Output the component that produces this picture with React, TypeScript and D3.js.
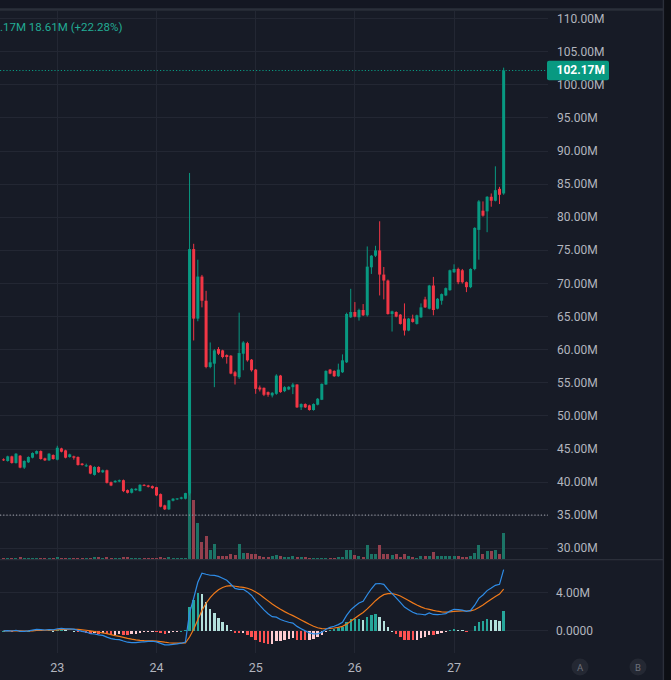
import React, { useEffect, useRef } from 'react';
import * as d3 from 'd3';

// hourly candles, first one opens 22nd 11:00 UTC
const startTime = Date.UTC(2025, 0, 22, 11);

const open = [
  43.45, 43.2, 43.9, 42.9, 44.0, 42.2, 43.0, 43.7, 44.3, 44.7, 43.6, 43.3, 44.1, 43.4, 45.1, 44.8,
  43.8, 43.9, 43.8, 42.8, 42.5, 42.5, 41.1, 42.3, 41.5, 41.8, 40.0, 40.0, 40.1, 40.3, 38.8, 38.4,
  38.8, 38.65, 39.6, 39.5, 39.4, 39.25, 38.2, 36.5, 35.9, 37.2, 37.4, 37.5, 37.5, 38.3, 75.2, 64.7,
  71.05, 67.4, 57.4, 57.9, 60.1, 59.9, 59.2, 59.1, 56.6, 55.85, 59.4, 61.0, 58.5, 57.0, 54.3, 54.25,
  53.6, 53.1, 53.35, 56.1, 53.75, 54.0, 54.35, 54.75, 51.3, 51.8, 51.6, 50.9, 51.7, 52.45, 54.75, 57.0,
  56.8, 56.0, 56.6, 58.1, 64.9, 65.7, 64.9, 66.0, 65.2, 72.45, 74.2, 75.0, 71.35, 70.45, 65.4, 65.7,
  65.3, 64.7, 62.9, 64.7, 63.9, 64.9, 67.6, 66.2, 69.7, 66.2, 67.4, 68.2, 69.0, 71.7, 72.2, 72.0,
  70.2, 69.45, 72.2, 78.1, 81.0, 80.9, 83.1, 82.5, 84.3, 83.6,
];
const high = [
  43.6, 44.0, 44.0, 44.4, 44.1, 43.3, 43.9, 44.5, 44.8, 44.8, 43.7, 44.4, 44.2, 45.5, 45.2, 44.9,
  44.3, 44.0, 43.9, 42.9, 42.8, 42.6, 42.4, 42.4, 41.9, 41.9, 40.1, 40.3, 40.4, 40.4, 38.9, 39.1,
  39.1, 39.7, 39.7, 39.6, 39.5, 39.3, 38.3, 36.6, 37.3, 37.6, 37.6, 37.8, 38.4, 86.7, 76.0, 73.6,
  71.3, 68.9, 61.1, 60.1, 60.4, 60.0, 59.3, 59.2, 56.8, 65.6, 61.3, 61.2, 58.6, 57.1, 54.6, 54.3,
  53.7, 53.6, 56.3, 56.2, 54.5, 54.5, 55.0, 54.8, 51.9, 51.9, 51.7, 51.9, 52.7, 54.9, 56.9, 57.1,
  56.9, 57.9, 59.3, 65.6, 69.2, 67.2, 66.2, 66.9, 75.6, 74.3, 75.7, 79.4, 72.5, 70.6, 65.9, 65.8,
  65.4, 67.0, 64.8, 65.3, 65.3, 67.0, 68.0, 69.8, 71.0, 67.8, 68.5, 69.4, 72.1, 72.9, 72.4, 72.2,
  70.3, 72.3, 78.5, 82.6, 82.4, 83.2, 83.6, 87.7, 84.6, 102.6,
];
const low = [
  43.2, 43.1, 42.8, 42.8, 42.1, 42.0, 42.9, 43.6, 44.2, 43.4, 43.2, 43.2, 43.4, 43.3, 44.5, 43.6,
  43.7, 43.4, 42.5, 42.5, 42.3, 41.2, 41.0, 41.4, 41.4, 39.8, 39.4, 39.9, 40.0, 38.5, 38.3, 38.3,
  38.7, 38.6, 39.4, 39.2, 39.0, 37.9, 36.2, 35.8, 35.8, 37.1, 37.3, 37.4, 37.4, 38.0, 61.4, 64.3,
  66.4, 57.2, 57.2, 54.35, 59.2, 58.7, 57.9, 56.3, 54.75, 55.6, 56.9, 58.2, 56.7, 53.35, 53.7, 53.0,
  52.9, 52.8, 53.2, 53.5, 53.6, 53.9, 53.3, 51.2, 50.9, 51.2, 50.8, 50.8, 51.6, 52.4, 54.7, 56.3,
  55.9, 55.9, 56.5, 58.0, 64.8, 64.9, 64.4, 65.1, 65.0, 71.45, 74.0, 68.2, 67.6, 65.3, 62.75, 64.9,
  63.8, 62.15, 62.8, 64.1, 63.8, 64.8, 66.3, 66.1, 65.2, 66.1, 66.8, 68.1, 68.9, 71.6, 69.9, 70.0,
  68.7, 69.3, 72.0, 73.6, 80.1, 77.75, 81.6, 82.4, 82.0, 83.4,
];
const close = [
  43.35, 43.9, 42.9, 44.3, 42.2, 43.2, 43.8, 44.4, 44.7, 43.5, 43.3, 44.3, 43.5, 45.2, 44.6, 43.7,
  44.2, 43.7, 42.6, 42.6, 42.55, 41.3, 42.3, 41.5, 41.8, 39.9, 39.5, 40.2, 40.3, 38.65, 38.4, 39.0,
  39.0, 39.6, 39.5, 39.3, 39.1, 38.0, 36.3, 35.9, 37.25, 37.5, 37.55, 37.7, 38.35, 75.2, 64.7, 71.05,
  67.4, 57.4, 58.1, 59.9, 59.4, 58.9, 58.9, 56.4, 56.0, 59.5, 61.1, 58.4, 56.9, 54.1, 54.0, 53.2,
  53.2, 53.5, 56.1, 53.6, 54.35, 54.4, 54.75, 51.3, 51.8, 51.3, 50.9, 51.8, 52.6, 54.85, 56.8, 56.4,
  56.0, 57.0, 58.4, 65.4, 65.7, 65.0, 66.0, 65.2, 72.55, 74.2, 75.0, 71.35, 70.45, 65.4, 65.8, 65.0,
  63.9, 62.9, 64.7, 64.2, 65.2, 66.4, 66.4, 69.7, 66.0, 67.7, 68.4, 69.3, 72.0, 72.2, 70.2, 70.2,
  69.45, 72.2, 78.4, 82.4, 80.25, 83.1, 82.5, 84.1, 83.4, 102.17,
];
const volume = [
  1.5, 1, 1.5, 1, 2, 1.5, 1, 1, 1, 1.5, 1, 1, 1, 2.5, 1.5, 1.5,
  1, 1, 1.5, 1, 1, 1.5, 2, 2, 1, 2, 1.5, 1, 1.5, 2.5, 2, 1.5,
  1, 1.5, 1, 1, 1, 1.5, 2, 1.5, 2, 1, 1, 1, 1.5, 85, 59, 36,
  17, 22.7, 8.7, 15.3, 2.7, 2.7, 2.7, 4.7, 4, 15.3, 6, 6, 5.3, 4.7, 2.7, 2,
  2, 3.3, 4, 2.7, 2, 2, 2.7, 2, 2, 2, 1, 1.3, 1.3, 1.3, 1.3, 1.3,
  1.3, 2, 2, 8.7, 8.7, 3.7, 2.7, 2, 13.7, 5.3, 5.3, 13.7, 5.3, 4.7, 3.7, 4.7,
  2, 5.3, 2.7, 2, 1.3, 3.3, 3.3, 2.7, 6.7, 3.3, 2.7, 2.7, 3.3, 3.3, 2.7, 2,
  2, 2.7, 6, 13.7, 4.7, 8, 8, 9.3, 4.7, 26,
];

const dayTicks = [23, 24, 25, 26, 27];
const priceTicks = [30, 35, 40, 45, 50, 55, 60, 65, 70, 75, 80, 85, 90, 95, 100, 105, 110];
const macdTicks = [0, 4];
const refLevel = 35.03;
const legendText = '.17M 18.61M (+22.28%)';

const W = 671;
const H = 680;
const plotRight = 548;
const priceTop = 10.7;
const priceBottom = 559;
const macdTop = 560;
const macdBottom = 653;

const UP = '#089981';
const DOWN = '#f23645';
const GRID = '#232733';
const TEXT = '#b2b5be';
const FONT = 'Roboto, "Noto Sans", sans-serif';

// standard EMA seeded with the first value
function ema(values: number[], n: number): number[] {
  const k = 2 / (n + 1);
  let prev = values[0];
  return values.map((v, i) => {
    if (i > 0) prev = v * k + prev * (1 - k);
    return prev;
  });
}

const CandleChart: React.FC = () => {
  const svgRef = useRef<SVGSVGElement>(null);

  useEffect(() => {
    document.body.style.margin = '0';
    if (!svgRef.current) return;
    const svg = d3.select(svgRef.current);
    svg.selectAll('*').remove();

    const data = close.map((c, i) => ({
      t: new Date(startTime + i * 3600e3),
      o: open[i], h: high[i], l: low[i], c, v: volume[i],
    }));

    // MACD(12, 26, 9) from closes
    const e12 = ema(close, 12);
    const e26 = ema(close, 26);
    const macd = e12.map((v, i) => v - e26[i]);
    const signal = ema(macd, 9);
    const hist = macd.map((v, i) => v - signal[i]);

    const x = d3.scaleUtc()
      .domain([new Date(Date.UTC(2025, 0, 22, 10, 8)), new Date(Date.UTC(2025, 0, 27, 22, 44))])
      .range([0, plotRight]);
    const yPrice = d3.scaleLinear().domain([28.4, 111.2]).range([priceBottom, priceTop]);
    const yVol = d3.scaleLinear().domain([0, 100]).range([priceBottom, priceBottom - 100]);
    const yMacd = d3.scaleLinear().domain([-2.3, 7.41]).range([macdBottom, macdTop]);

    // background
    svg.append('rect').attr('width', W).attr('height', H).attr('fill', '#171b26');
    svg.append('rect').attr('width', W).attr('height', 8).attr('fill', '#141722');
    svg.append('rect').attr('y', 8.3).attr('width', W).attr('height', 2.4).attr('fill', '#2b2f3a');
    svg.append('rect').attr('x', 664).attr('width', W - 664).attr('height', H).attr('fill', '#0d0f14');
    svg.append('rect').attr('x', 662.7).attr('width', 1.4).attr('height', H).attr('fill', '#2b2f3a');

    svg.append('clipPath').attr('id', 'plot-clip')
      .append('rect').attr('x', 0).attr('y', priceTop).attr('width', plotRight).attr('height', macdBottom - priceTop);

    // grid
    const grid = svg.append('g').attr('shape-rendering', 'crispEdges');
    const dayDates = dayTicks.map(d => new Date(Date.UTC(2025, 0, d)));
    dayDates.forEach(d => {
      grid.append('line')
        .attr('x1', x(d)).attr('x2', x(d))
        .attr('y1', priceTop).attr('y2', macdBottom)
        .attr('stroke', GRID).attr('stroke-width', 1);
    });
    priceTicks.forEach(p => {
      grid.append('line')
        .attr('x1', 0).attr('x2', plotRight)
        .attr('y1', yPrice(p)).attr('y2', yPrice(p))
        .attr('stroke', GRID).attr('stroke-width', 1);
    });
    macdTicks.forEach(m => {
      grid.append('line')
        .attr('x1', 0).attr('x2', plotRight)
        .attr('y1', yMacd(m)).attr('y2', yMacd(m))
        .attr('stroke', GRID).attr('stroke-width', 1);
    });

    // pane separator
    svg.append('rect').attr('x', 0).attr('y', priceBottom).attr('width', 663).attr('height', 1.3).attr('fill', '#2b2f3a');

    const plot = svg.append('g').attr('clip-path', 'url(#plot-clip)');

    // volume
    plot.append('g').attr('shape-rendering', 'crispEdges')
      .selectAll('rect').data(data).join('rect')
      .attr('x', d => x(d.t) - 1.5)
      .attr('width', 3)
      .attr('y', d => yVol(d.v))
      .attr('height', d => priceBottom - yVol(d.v))
      .attr('fill', d => (d.c >= d.o ? '#1c7466' : '#94404e'));

    // reference dotted level
    plot.append('line')
      .attr('x1', 0).attr('x2', plotRight)
      .attr('y1', yPrice(refLevel)).attr('y2', yPrice(refLevel))
      .attr('stroke', '#8a8d96').attr('stroke-width', 1.2).attr('stroke-dasharray', '1.2,2');

    // candles
    const candles = plot.append('g').selectAll('g').data(data).join('g');
    candles.append('line')
      .attr('x1', d => x(d.t)).attr('x2', d => x(d.t))
      .attr('y1', d => yPrice(d.h)).attr('y2', d => yPrice(d.l))
      .attr('stroke', d => (d.c >= d.o ? UP : DOWN)).attr('stroke-width', 1);
    candles.append('rect')
      .attr('x', d => x(d.t) - 1.5)
      .attr('width', 3)
      .attr('y', d => yPrice(Math.max(d.o, d.c)))
      .attr('height', d => Math.max(1, Math.abs(yPrice(d.o) - yPrice(d.c))))
      .attr('fill', d => (d.c >= d.o ? UP : DOWN));

    // last price line
    const last = close[close.length - 1];
    plot.append('line')
      .attr('x1', 0).attr('x2', plotRight)
      .attr('y1', yPrice(last)).attr('y2', yPrice(last))
      .attr('stroke', UP).attr('stroke-width', 1.2).attr('stroke-dasharray', '1.2,2');

    // MACD histogram
    plot.append('g').attr('shape-rendering', 'crispEdges')
      .selectAll('rect').data(hist).join('rect')
      .attr('x', (_, i) => x(data[i].t) - 1.2)
      .attr('width', 2.4)
      .attr('y', h => Math.min(yMacd(h), yMacd(0)))
      .attr('height', h => Math.max(0.8, Math.abs(yMacd(h) - yMacd(0))))
      .attr('fill', (h, i) => {
        const prev = i > 0 ? hist[i - 1] : h;
        if (h >= 0) return h >= prev ? '#26a69a' : '#b2dfdb';
        return h > prev ? '#ffcdd2' : '#ff5252';
      });

    const line = (vals: number[]) => d3.line<number>()
      .x((_, i) => x(data[i].t))
      .y(v => yMacd(v))(vals);
    plot.append('path').attr('d', line(signal)).attr('fill', 'none')
      .attr('stroke', '#f07a1a').attr('stroke-width', 1.2);
    plot.append('path').attr('d', line(macd)).attr('fill', 'none')
      .attr('stroke', '#2f8ce6').attr('stroke-width', 1.2);

    // price axis labels
    const fmt = d3.format('.2f');
    priceTicks.forEach(p => {
      svg.append('text')
        .attr('x', 557).attr('y', yPrice(p))
        .attr('dominant-baseline', 'central')
        .style('font-family', FONT).style('font-size', '12px')
        .style('fill', TEXT)
        .text(`${fmt(p)}M`);
    });
    macdTicks.forEach(m => {
      svg.append('text')
        .attr('x', 556).attr('y', yMacd(m))
        .attr('dominant-baseline', 'central')
        .style('font-family', FONT).style('font-size', '12px')
        .style('fill', TEXT)
        .text(m === 0 ? '0.0000' : `${fmt(m)}M`);
    });

    // last price tag
    svg.append('rect')
      .attr('x', 547).attr('y', yPrice(last) - 9.7)
      .attr('width', 62).attr('height', 19.4).attr('rx', 2)
      .attr('fill', UP);
    svg.append('text')
      .attr('x', 556.5).attr('y', yPrice(last))
      .attr('dominant-baseline', 'central')
      .style('font-family', FONT).style('font-size', '12px').style('font-weight', 'bold')
      .style('fill', '#ffffff')
      .text(`${fmt(last)}M`);

    // time axis labels
    dayDates.forEach(d => {
      svg.append('text')
        .attr('x', x(d)).attr('y', 667)
        .attr('text-anchor', 'middle')
        .attr('dominant-baseline', 'central')
        .style('font-family', FONT).style('font-size', '12.5px')
        .style('fill', TEXT)
        .text(d3.utcFormat('%-d')(d));
    });

    // A / B buttons
    [['A', 580], ['B', 638]].forEach(([label, cx]) => {
      svg.append('circle').attr('cx', cx).attr('cy', 667).attr('r', 8.5).attr('fill', '#242833');
      svg.append('text')
        .attr('x', cx).attr('y', 667.5)
        .attr('text-anchor', 'middle').attr('dominant-baseline', 'central')
        .style('font-family', FONT).style('font-size', '9.5px')
        .style('fill', '#6d707a')
        .text(label as string);
    });

    // legend
    svg.append('text')
      .attr('x', 0).attr('y', 26.7)
      .attr('dominant-baseline', 'central')
      .style('font-family', FONT).style('font-size', '11.5px')
      .style('fill', '#22ab94')
      .text(legendText);
  }, []);

  return <svg ref={svgRef} width={W} height={H} style={{ display: 'block' }} />;
};

export default function App() {
  return <CandleChart />;
}
